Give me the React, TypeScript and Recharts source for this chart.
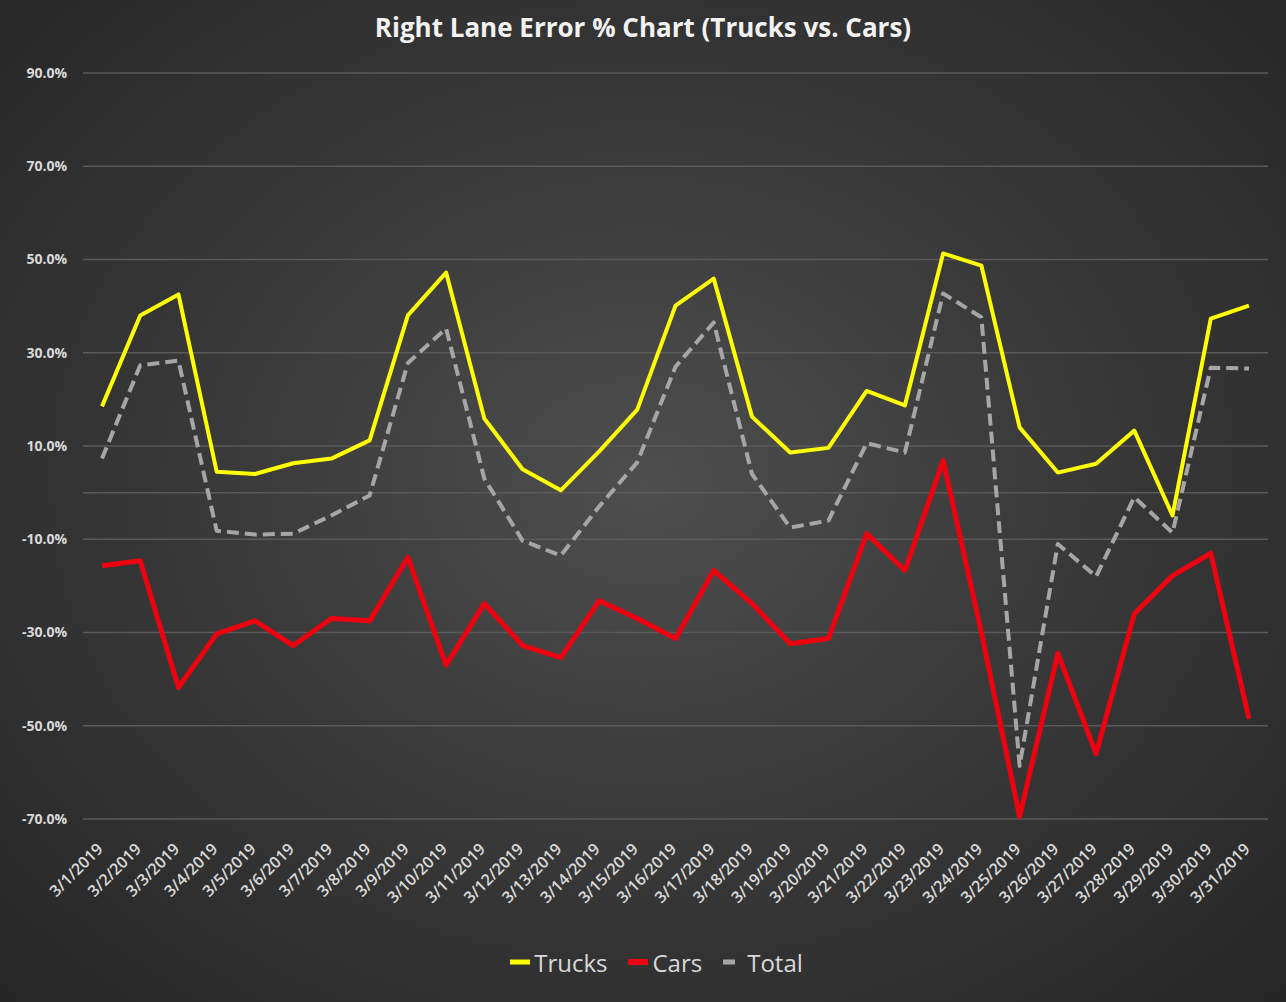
import React from 'react';
import {
    LineChart,
    Line,
    XAxis,
    YAxis,
    CartesianGrid,
    Legend,
    ReferenceLine,
} from 'recharts';

const dates = [
    '3/1/2019', '3/2/2019', '3/3/2019', '3/4/2019', '3/5/2019', '3/6/2019', '3/7/2019', '3/8/2019',
    '3/9/2019', '3/10/2019', '3/11/2019', '3/12/2019', '3/13/2019', '3/14/2019', '3/15/2019', '3/16/2019',
    '3/17/2019', '3/18/2019', '3/19/2019', '3/20/2019', '3/21/2019', '3/22/2019', '3/23/2019', '3/24/2019',
    '3/25/2019', '3/26/2019', '3/27/2019', '3/28/2019', '3/29/2019', '3/30/2019', '3/31/2019',
];

// error rates in percent
const trucks = [
    18.5, 38, 42.5, 4.5, 4, 6.3, 7.3, 11.2, 38, 47.2, 15.9, 5, 0.5, 8.8, 17.8, 40.1,
    45.9, 16.3, 8.6, 9.6, 21.8, 18.7, 51.3, 48.7, 14, 4.3, 6.2, 13.3, -4.9, 37.3, 40.1,
];
const cars = [
    -15.7, -14.6, -41.8, -30.3, -27.5, -32.8, -27, -27.5, -13.9, -37, -23.8, -32.8, -35.4, -23.2, -27, -31.3,
    -16.7, -23.8, -32.4, -31.3, -8.8, -16.7, 6.9, -30, -69.5, -34.5, -56, -26, -17.8, -13, -48.5,
];
const total = [
    7.3, 27.3, 28.3, -8.2, -9, -8.8, -4.9, -0.6, 27.8, 35.2, 3, -10.3, -13.5, -3, 6.5, 27,
    36.5, 4, -7.5, -6, 10.6, 8.6, 42.7, 37.6, -58.6, -11, -18, -1, -8.6, 26.8, 26.6,
];

const yTicks = [-70, -50, -30, -10, 10, 30, 50, 70, 90];

const data = dates.map((date, i) => ({
    date,
    Trucks: trucks[i],
    Cars: cars[i],
    Total: total[i],
}));

const FONT = '"Open Sans", sans-serif';
const LABEL = '#d9d9d9';

const series = [
    { key: 'Trucks', color: '#ffff00', width: 4, dash: undefined },
    { key: 'Cars', color: '#ee0010', width: 5, dash: undefined },
    { key: 'Total', color: '#a6a6a6', width: 4, dash: '12 6' },
];

const DateTick = ({ x, y, payload }: any) => (
    <g transform={`translate(${x + 2},${y + 23})`}>
        <text
            x={0}
            y={0}
            textAnchor="end"
            transform="rotate(-45)"
            fill={LABEL}
            fontSize={16}
            fontWeight={600}
            fontFamily={FONT}
        >
            {payload.value}
        </text>
    </g>
);

const LegendRow = () => (
    <div
        style={{
            display: 'flex',
            justifyContent: 'center',
            alignItems: 'center',
            height: 80,
            gap: 20,
            paddingLeft: 36,
            fontFamily: FONT,
            fontSize: 24,
            color: LABEL,
        }}
    >
        {series.map((s) => (
            <div key={s.key} style={{ display: 'flex', alignItems: 'center' }}>
                <svg width={22} height={10} style={{ marginRight: 3 }}>
                    <line
                        x1={1}
                        y1={5}
                        x2={21}
                        y2={5}
                        stroke={s.color}
                        strokeWidth={s.width + 1}
                        strokeDasharray={s.dash ? '12 8' : undefined}
                    />
                </svg>
                <span>{s.key}</span>
            </div>
        ))}
    </div>
);

export default function App() {
    return (
        <>
            <style>{'body { margin: 0; }'}</style>
            <div
                style={{
                    position: 'relative',
                    width: 1286,
                    height: 1002,
                    background: 'radial-gradient(ellipse at 50% 48%, #4e4e4e 0%, #3a3a3a 45%, #262626 100%)',
                    overflow: 'hidden',
                }}
            >
                <div
                    style={{
                        position: 'absolute',
                        top: 9,
                        left: 0,
                        width: '100%',
                        textAlign: 'center',
                        color: '#f2f2f2',
                        fontFamily: FONT,
                        fontWeight: 700,
                        fontSize: 26,
                    }}
                >
                    Right Lane Error % Chart (Trucks vs. Cars)
                </div>
                <LineChart
                    width={1286}
                    height={1002}
                    data={data}
                    margin={{ top: 73, right: 18, bottom: 0, left: 8 }}
                >
                    <CartesianGrid vertical={false} stroke="#5a5a5a" strokeWidth={1.5} />
                    <ReferenceLine y={0} stroke="#5a5a5a" strokeWidth={1.5} />
                    <XAxis
                        dataKey="date"
                        interval={0}
                        height={103}
                        padding={{ left: 19, right: 19 }}
                        axisLine={false}
                        tickLine={false}
                        tick={<DateTick />}
                    />
                    <YAxis
                        type="number"
                        domain={[-70, 90]}
                        ticks={yTicks}
                        width={75}
                        axisLine={false}
                        tickLine={false}
                        tickSize={8}
                        tickMargin={8}
                        tickFormatter={(v: number) => `${v.toFixed(1)}%`}
                        tick={{ fill: LABEL, fontSize: 14, fontWeight: 700, fontFamily: FONT }}
                    />
                    <Legend verticalAlign="bottom" height={80} content={() => <LegendRow />} />
                    {series.map((s) => (
                        <Line
                            key={s.key}
                            dataKey={s.key}
                            stroke={s.color}
                            strokeWidth={s.width}
                            strokeDasharray={s.dash}
                            strokeLinejoin="round"
                            dot={false}
                            activeDot={false}
                            isAnimationActive={false}
                        />
                    ))}
                </LineChart>
            </div>
        </>
    );
}
